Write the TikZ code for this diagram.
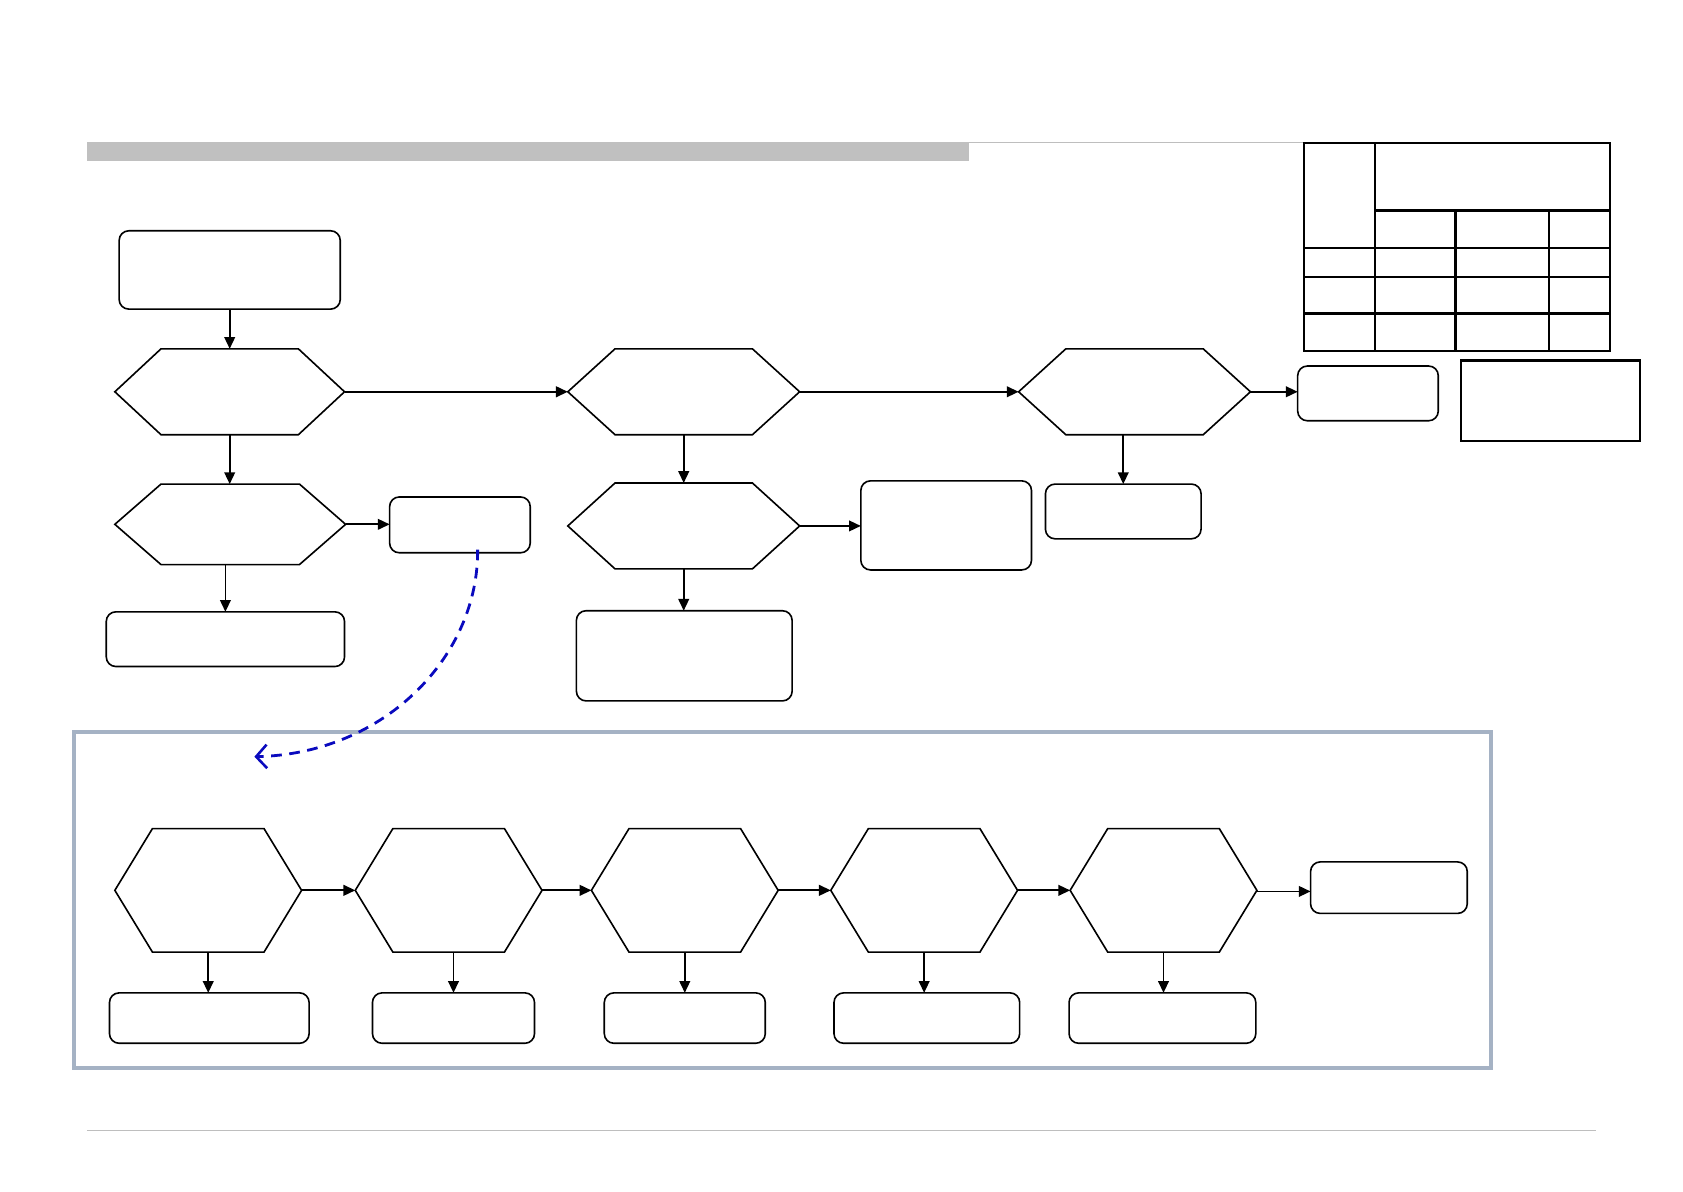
\documentclass[tikz,border=0pt]{standalone}
\usetikzlibrary{arrows.meta}
\definecolor{barg}{RGB}{192,192,192}
\definecolor{lineg}{RGB}{190,190,190}
\definecolor{frameg}{RGB}{165,178,196}
\definecolor{dblue}{RGB}{10,10,190}
\tikzset{
  base/.style={draw=none,inner sep=0pt,outer sep=0pt},
  rbox/.style={draw=black,line width=1.5pt,rounded corners=9pt,inner sep=0pt,outer sep=0pt},
  sbox/.style={draw=black,line width=2.2pt,inner sep=0pt,outer sep=0pt},
  hexline/.style={draw=black,line width=1.5pt,line join=miter},
  conn/.style={draw=black,line width=1.6pt,-{Triangle[length=11pt,width=10pt]}},
  tabline/.style={draw=black,line width=2.2pt},
}
\newcommand\myhex[6]{%
  \node[base,minimum width=#4pt,minimum height=#5pt] (#1) at (#2,#3) {};
  \draw[hexline] (#1.west) -- ([xshift=#6pt]#1.north west) -- ([xshift=-#6pt]#1.north east) -- (#1.east) -- ([xshift=-#6pt]#1.south east) -- ([xshift=#6pt]#1.south west) -- cycle;}
\newcommand\mybox[5]{%
  \node[rbox,minimum width=#4pt,minimum height=#5pt] (#1) at (#2,#3) {};}
\begin{document}
\begin{tikzpicture}[x=1pt,y=-1pt]
\useasboundingbox (0,0) rectangle (1568,1110);
% header bar and lines
\fill[barg] (81,132) rectangle (903,150);
\draw[lineg,line width=1pt] (903,132.5) -- (1215,132.5);
\draw[lineg,line width=1pt] (81,1053) -- (1487,1053);
% table
\draw[tabline] (1215,133) rectangle (1500,327);
\draw[tabline] (1281,133) -- (1281,327);
\draw[tabline] (1281,196) -- (1500,196);
\draw[tabline] (1215,231) -- (1500,231);
\draw[tabline] (1215,258) -- (1500,258);
\draw[tabline] (1215,292) -- (1500,292);
\draw[tabline] (1356,196) -- (1356,327);
\draw[tabline] (1443,196) -- (1443,327);
% right square box
\node[sbox,minimum width=167pt,minimum height=75pt] (note) at (1444.5,373.5) {};
% top flow
\mybox{s}{214}{251.5}{206}{73}
\myhex{h1}{214}{365}{214}{80}{43}
\myhex{h2}{637}{365}{216}{80}{44}
\myhex{h3}{1057}{365}{216}{80}{44}
\mybox{r1}{1274.5}{366.5}{131}{51}
\mybox{r3}{1046.5}{476.5}{145}{51}
\myhex{h4}{214.5}{488.5}{215}{75}{43}
\mybox{b4}{428.5}{489}{131}{52}
\mybox{b41}{210}{595.5}{222}{51}
\myhex{h5}{637}{490}{216}{80}{44}
\mybox{b5}{881.5}{489.5}{159}{83}
\mybox{b51}{637.5}{611}{201}{84}
\draw[conn] (s.south) -- (s.south |- h1.north);
\draw[conn] (h1.east) -- (h2.west);
\draw[conn] (h2.east) -- (h3.west);
\draw[conn] (h3.east) -- (h3.east -| r1.west);
\draw[conn] (r3.north |- h3.south) -- (r3.north);
\draw[conn] (h1.south) -- (h1.south |- h4.north);
\draw[conn] (h4.east) -- (h4.east -| b4.west);
\draw[conn] (b41.north |- h4.south) -- (b41.north);
\draw[conn] (h2.south) -- (h5.north);
\draw[conn] (h5.east) -- (h5.east -| b5.west);
\draw[conn] (h5.south) -- (h5.south |- b51.north);
% lower frame
\draw[frameg,line width=3pt] (69,682) rectangle (1389,995);
% dashed curve
\coordinate (cstart) at (445,512);
\coordinate (cend) at (237,705);
\draw[dblue,line width=2.6pt,dash pattern=on 10pt off 7pt,-{Straight Barb[length=10pt,width=22pt,line width=2.4pt]}] (cstart) .. controls (446,610) and (360,702) .. (cend);
% lower flow
\myhex{l1}{194}{829.5}{174}{115}{35}
\myhex{l2}{418}{829.5}{174}{115}{35}
\myhex{l3}{638}{829.5}{174}{115}{35}
\myhex{l4}{861}{829.5}{174}{115}{35}
\myhex{l5}{1084}{829.5}{174}{115}{35}
\mybox{lr}{1294}{827}{146}{48}
\mybox{d1}{195}{948.5}{186}{47}
\mybox{d2}{422.5}{948.5}{151}{47}
\mybox{d3}{638}{948.5}{150}{47}
\mybox{d4}{863.5}{948.5}{173}{47}
\mybox{d5}{1083}{948.5}{174}{47}
\draw[conn] (l1.east) -- (l2.west);
\draw[conn] (l2.east) -- (l3.west);
\draw[conn] (l3.east) -- (l4.west);
\draw[conn] (l4.east) -- (l5.west);
\draw[conn] ([yshift=-1pt]l5.east) -- ([yshift=-1pt]l5.east -| lr.west);
\draw[conn] (l1.south) -- (l1.south |- d1.north);
\draw[conn] (d2.north |- l2.south) -- (d2.north);
\draw[conn] (l3.south) -- (l3.south |- d3.north);
\draw[conn] (l4.south) -- (l4.south |- d4.north);
\draw[conn] (l5.south) -- (l5.south |- d5.north);
\end{tikzpicture}
\end{document}
